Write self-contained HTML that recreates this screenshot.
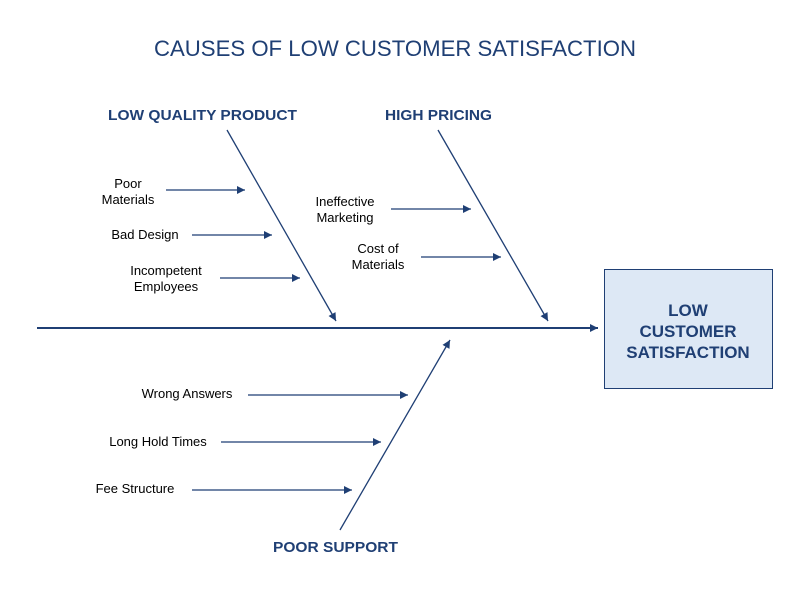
<!DOCTYPE html>
<html><head><meta charset="utf-8"><style>html,body{margin:0;padding:0;background:#fff}svg{display:block}</style></head>
<body>
<svg width="800" height="600" viewBox="0 0 800 600" xmlns="http://www.w3.org/2000/svg" font-family="Liberation Sans, sans-serif">
<defs>
<marker id="a" viewBox="0 0 10 10" refX="10" refY="5" markerWidth="11" markerHeight="8" markerUnits="userSpaceOnUse" orient="auto"><path d="M0,0L10,5L0,10z" fill="#1f3f74"/></marker>
</defs>
<text x="154" y="56" font-size="22" fill="#1f3f74" textLength="482" lengthAdjust="spacingAndGlyphs">CAUSES OF LOW CUSTOMER SATISFACTION</text>
<g font-size="15" font-weight="bold" fill="#1f3f74">
<text x="108" y="120" textLength="189" lengthAdjust="spacingAndGlyphs">LOW QUALITY PRODUCT</text>
<text x="385" y="120" textLength="107" lengthAdjust="spacingAndGlyphs">HIGH PRICING</text>
<text x="273" y="552" textLength="125" lengthAdjust="spacingAndGlyphs">POOR SUPPORT</text>
</g>
<g stroke="#1f3f74" stroke-width="1.3" fill="none" marker-end="url(#a)">
<line x1="37" y1="328" x2="598" y2="328" stroke-width="2"/>
<line x1="227" y1="130" x2="336" y2="321"/>
<line x1="438" y1="130" x2="548" y2="321"/>
<line x1="340" y1="530" x2="450" y2="340"/>
<line x1="166" y1="190" x2="245" y2="190"/>
<line x1="192" y1="235" x2="272" y2="235"/>
<line x1="220" y1="278" x2="300" y2="278"/>
<line x1="391" y1="209" x2="471" y2="209"/>
<line x1="421" y1="257" x2="501" y2="257"/>
<line x1="248" y1="395" x2="408" y2="395"/>
<line x1="221" y1="442" x2="381" y2="442"/>
<line x1="192" y1="490" x2="352" y2="490"/>
</g>
<g font-size="13" fill="#000" text-anchor="middle">
<text x="128" y="188">Poor</text><text x="128" y="204">Materials</text>
<text x="145" y="239">Bad Design</text>
<text x="166" y="275">Incompetent</text><text x="166" y="291">Employees</text>
<text x="345" y="206">Ineffective</text><text x="345" y="222">Marketing</text>
<text x="378" y="253">Cost of</text><text x="378" y="269">Materials</text>
<text x="187" y="398">Wrong Answers</text>
<text x="158" y="446">Long Hold Times</text>
<text x="135" y="493">Fee Structure</text>
</g>
<rect x="604.5" y="269.5" width="168" height="119" fill="#dde8f5" stroke="#1f3f74" stroke-width="1"/>
<g font-size="17" font-weight="bold" fill="#1f3f74" text-anchor="middle">
<text x="688" y="316">LOW</text>
<text x="688" y="337">CUSTOMER</text>
<text x="688" y="358">SATISFACTION</text>
</g>
</svg>
</body></html>
